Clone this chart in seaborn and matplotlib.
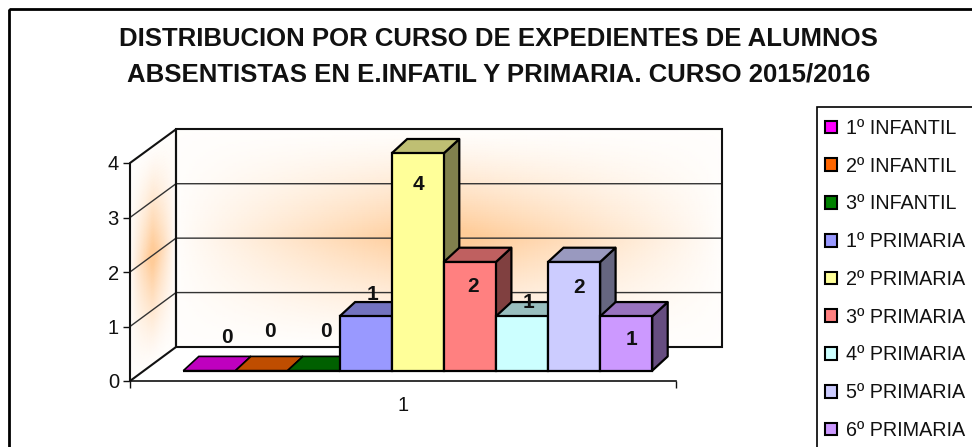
import numpy as np
import pandas as pd
import matplotlib
matplotlib.use("Agg")
import matplotlib.pyplot as plt
from matplotlib.colors import LinearSegmentedColormap, to_rgb
from matplotlib.patches import Polygon, Rectangle
import seaborn as sns

# ---- data ----
courses = ["1º INFANTIL", "2º INFANTIL", "3º INFANTIL", "1º PRIMARIA", "2º PRIMARIA",
           "3º PRIMARIA", "4º PRIMARIA", "5º PRIMARIA", "6º PRIMARIA"]
expedientes = [0, 0, 0, 1, 4, 2, 1, 2, 1]
colours = ["#FF00FF", "#FF6600", "#008000", "#9999FF", "#FFFF99",
           "#FF8080", "#CCFFFF", "#CCCCFF", "#CC99FF"]
value_ticks = [0, 1, 2, 3, 4]
category_label = "1"
title_lines = ["DISTRIBUCION POR CURSO DE EXPEDIENTES DE ALUMNOS",
               "ABSENTISTAS EN E.INFATIL Y PRIMARIA. CURSO 2015/2016"]

# ---- layout (pixels of the 972x447 canvas) ----
W, H = 972, 447
FONT = "Liberation Sans"
label_offsets = [(18, -33), (8, -39), (12, -39), (7, -76), (1, -186),
                 (3, -84), (7, -68), (5, -83), (5, -31)]
DEPTH_X, DEPTH_Y = 15.5, 14.3
BAR_L, BAR_W, BAR_BASE, UNIT = 183.3, 52.1, 370.7, 54.35


def rect(l, t, r, b):
    return [l / W, 1 - b / H, (r - l) / W, (b - t) / H]


sns.set_theme(style="white", rc={"font.family": FONT})
fig = plt.figure(figsize=(W / 100, H / 100), dpi=100, facecolor="white")

# walls, drawn in canvas pixels
bg = fig.add_axes([0, 0, 1, 1], zorder=0)
bg.set_xlim(0, W)
bg.set_ylim(H, 0)
bg.axis("off")
cmap = LinearSegmentedColormap.from_list("wall", ["#FFFFFF", "#FFCC99"])


def wall_shade(n, m):
    u = np.linspace(-1, 1, n)
    v = np.linspace(-1, 1, m)
    U, V = np.meshgrid(u, v)
    return np.clip((1 - np.abs(U)) ** 0.95 * (1 - np.abs(V)) ** 1.3 * 1.1 + 0.03, 0, 1)


# back wall
BX0, BX1, BY0, BY1 = 176, 722, 129.3, 347
gx, gy = np.meshgrid(np.linspace(BX0, BX1, 200), np.linspace(BY0, BY1, 100))
bg.pcolormesh(gx, gy, wall_shade(200, 100), cmap=cmap, vmin=0, vmax=1,
              shading="gouraud", zorder=1)
# left wall
FX, FY0, FY1 = 130, 163, 381
s = np.linspace(0, 1, 40)
t = np.linspace(0, 1, 80)
S, T = np.meshgrid(s, t)
lx = FX + (BX0 - FX) * S
ly = (FY0 + (FY1 - FY0) * T) + (BY0 - FY0) * S
bg.pcolormesh(lx, ly, wall_shade(40, 80), cmap=cmap, vmin=0, vmax=1,
              shading="gouraud", zorder=1)
bg.add_patch(Rectangle((BX0, BY0), BX1 - BX0, BY1 - BY0, fill=False, ec="#111111", lw=1.5, zorder=3))
bg.add_patch(Polygon([(FX, FY0), (BX0, BY0), (BX0, BY1), (FX, FY1)], fill=False,
                     ec="#111111", lw=1.5, zorder=3))
for v in value_ticks[1:-1]:
    yb = BY1 - (BY1 - BY0) * v / 4
    yf = FY1 - (FY1 - FY0) * v / 4
    bg.plot([FX, BX0, BX1], [yf, yb, yb], color="#333333", lw=1.0, zorder=2)
# chart frame and legend box both run off the canvas on the right and bottom
bg.add_patch(Rectangle((9, 9), W + 20, H + 20, fill=False, ec="black", lw=2, zorder=4, clip_on=False))
bg.add_patch(Rectangle((817, 107), W, H, fc="white", ec="black", lw=1.2, zorder=5, clip_on=False))

# the value axis on the front plane
ax_v = fig.add_axes(rect(FX, FY0, 676, FY1), zorder=1)
ax_v.patch.set_alpha(0)
ax_v.set_ylim(value_ticks[0], value_ticks[-1])
ax_v.set_xlim(0, 2)
ax_v.set_yticks(value_ticks)
ax_v.set_xticks([0, 1, 2])
ax_v.set_xticklabels(["", category_label, ""], fontsize=14.5, color="#111111")
ax_v.xaxis.set_tick_params(pad=6)
ax_v.tick_params(axis="both", direction="out", length=5, width=1, color="#111111", left=True, bottom=True)
ax_v.tick_params(axis="y", labelsize=14.5, pad=3, labelcolor="#111111")
ax_v.xaxis.get_major_ticks()[1].tick1line.set_visible(False)
for side in ("top", "right"):
    ax_v.spines[side].set_visible(False)
ax_v.spines["bottom"].set_color("#111111")
ax_v.spines["bottom"].set_linewidth(1.2)
ax_v.spines["left"].set_visible(False)

# bars: axes spanning the canvas, with limits set so one unit is one bar/one value step
ax = fig.add_axes([0, 0, 1, 1], zorder=2)
ax.patch.set_alpha(0)
df = pd.DataFrame({"curso": courses, "expedientes": expedientes})
sns.barplot(data=df, x="curso", y="expedientes", hue="curso", hue_order=courses, order=courses,
            palette=colours, width=1.0, dodge=False, saturation=1, edgecolor="black",
            linewidth=1.6, legend=False, ax=ax)
ax.set_xlim((0 - BAR_L) / BAR_W - 0.5, (W - BAR_L) / BAR_W - 0.5)
ax.set_ylim((BAR_BASE - H) / UNIT, BAR_BASE / UNIT)
ax.axis("off")

dx, dy = DEPTH_X / BAR_W, DEPTH_Y / UNIT
bars = [p for p in ax.patches]
for i, (bar, col, val) in enumerate(zip(bars, colours, expedientes)):
    x0, w, h = bar.get_x(), bar.get_width(), bar.get_height()
    rgb = np.array(to_rgb(col))
    z = 3 + i
    bar.set_zorder(z + 0.2)
    ax.add_patch(Polygon([(x0 + w, 0), (x0 + w + dx, dy), (x0 + w + dx, h + dy), (x0 + w, h)],
                         fc=rgb * 0.5, ec="black", lw=1.6, zorder=z, joinstyle="round"))
    ax.add_patch(Polygon([(x0, h), (x0 + dx, h + dy), (x0 + w + dx, h + dy), (x0 + w, h)],
                         fc=rgb * 0.75, ec="black", lw=1.2 if h == 0 else 1.6, zorder=z + 0.1))
    ox, oy = label_offsets[i]
    ax.annotate(str(val), xy=(x0 + w / 2, 0), xytext=(ox * 0.72, -oy * 0.72), textcoords="offset points",
                ha="center", va="center", fontsize=15, fontweight="bold", color="#111111",
                family=FONT, zorder=30)

# title
fig.text(498.5 / W, 1 - 38.5 / H, title_lines[0], ha="center", va="center", fontsize=18.55,
         fontweight="bold", family=FONT, color="#111111")
fig.text(498.5 / W, 1 - 74 / H, title_lines[1], ha="center", va="center", fontsize=18.55,
         fontweight="bold", family=FONT, color="#111111")

# legend
handles = [Rectangle((0, 0), 1, 1, fc=c, ec="black", lw=1.5) for c in colours]
leg = fig.legend(handles, courses, loc="upper left", bbox_to_anchor=(825 / W, 1 - 119 / H),
                 borderaxespad=0, frameon=False, fontsize=14.2, handlelength=0.61, handleheight=0.61,
                 handletextpad=0.45, labelspacing=0.95, borderpad=0, labelcolor="#111111")
leg.set_zorder(40)

fig.savefig("out.png", dpi=100)
